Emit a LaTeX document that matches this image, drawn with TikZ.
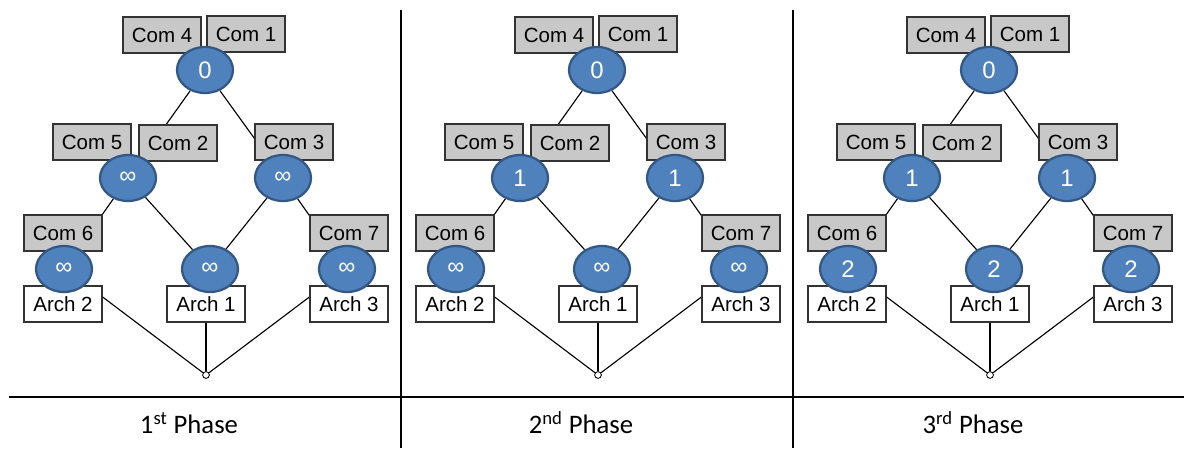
\documentclass[tikz,border=0pt]{standalone}
\usepackage{fontspec}
\setmainfont{Liberation Sans}
\newfontfamily\phasefont{Carlito}
\usetikzlibrary{shapes.geometric,backgrounds}
\definecolor{nodeblue}{RGB}{79,129,189}
\definecolor{nodeedge}{RGB}{52,88,132}
\definecolor{boxgray}{RGB}{200,200,200}
\tikzset{
  com/.style={draw=black!80, line width=0.9pt, fill=boxgray, minimum width=1.95cm, minimum height=0.9cm, inner sep=0pt, font=\fontsize{14.6}{16}\selectfont},
  arch/.style={com, fill=white},
  val/.style={ellipse, draw=nodeedge, line width=1.6pt, fill=nodeblue, text=white, minimum width=1.4cm, minimum height=1.15cm, inner sep=0pt, font=\fontsize{17}{19}\selectfont},
  sink/.style={circle, draw, fill=white, line width=0.6pt, minimum size=0.17cm, inner sep=0pt},
  link/.style={line width=0.8pt}
}

\begin{document}
\begin{tikzpicture}
\useasboundingbox (0,0) rectangle (29.6,11.2);
% table lines
\draw[line width=0.8pt] (0.225,1.275) -- (29.6,1.275);
\draw[line width=0.8pt] (10.025,0) -- (10.025,10.95);
\draw[line width=0.8pt] (19.825,0) -- (19.825,10.95);
\foreach \i/\vm/\vb/\num/\ord in {0/∞/∞/1/st, 1/1/∞/2/nd, 2/1/2/3/rd} {
\begin{scope}[xshift=\i*9.8cm]
% communities
\node[com] (c4) at (4.05,10.325) {Com 4};
\node[com] (c1) at (6.15,10.35) {Com 1};
\node[com] (c5) at (2.3,7.65) {Com 5};
\node[com] (c2) at (4.45,7.625) {Com 2};
\node[com] (c3) at (7.35,7.65) {Com 3};
\node[com] (c6) at (1.575,5.375) {Com 6};
\node[com] (c7) at (8.725,5.375) {Com 7};
% architectures
\node[arch] (a2) at (1.575,3.6) {Arch 2};
\node[arch] (a1) at (5.15,3.6) {Arch 1};
\node[arch] (a3) at (8.725,3.6) {Arch 3};
% values
\node[val] (n0) at (5.125,9.45) {0};
\node[val] (nL) at (3.2,6.75) {\vm};
\node[val] (nR) at (7.075,6.75) {\vm};
\node[val] (bL) at (1.6,4.475) {\vb};
\node[val] (bM) at (5.25,4.475) {\vb};
\node[val] (bR) at (8.675,4.475) {\vb};
\node[sink] (o) at (5.15,1.825) {};
\begin{scope}[on background layer]
\draw[link] (n0) -- (nL);
\draw[link] (n0) -- (nR);
\draw[link] (nL) -- (bL);
\draw[link] (nL) -- (bM);
\draw[link] (nR) -- (bM);
\draw[link] (nR) -- (bR);
\draw[link] (a2.10) -- (o);
\draw[link] (a1) -- (o);
\draw[link] (a3.170) -- (o);
\end{scope}
\node (ph) at (4.725,0.625) {\phasefont\fontsize{19}{22}\selectfont \num\textsuperscript{\ord} Phase};
\end{scope}
}
\end{tikzpicture}
\end{document}
